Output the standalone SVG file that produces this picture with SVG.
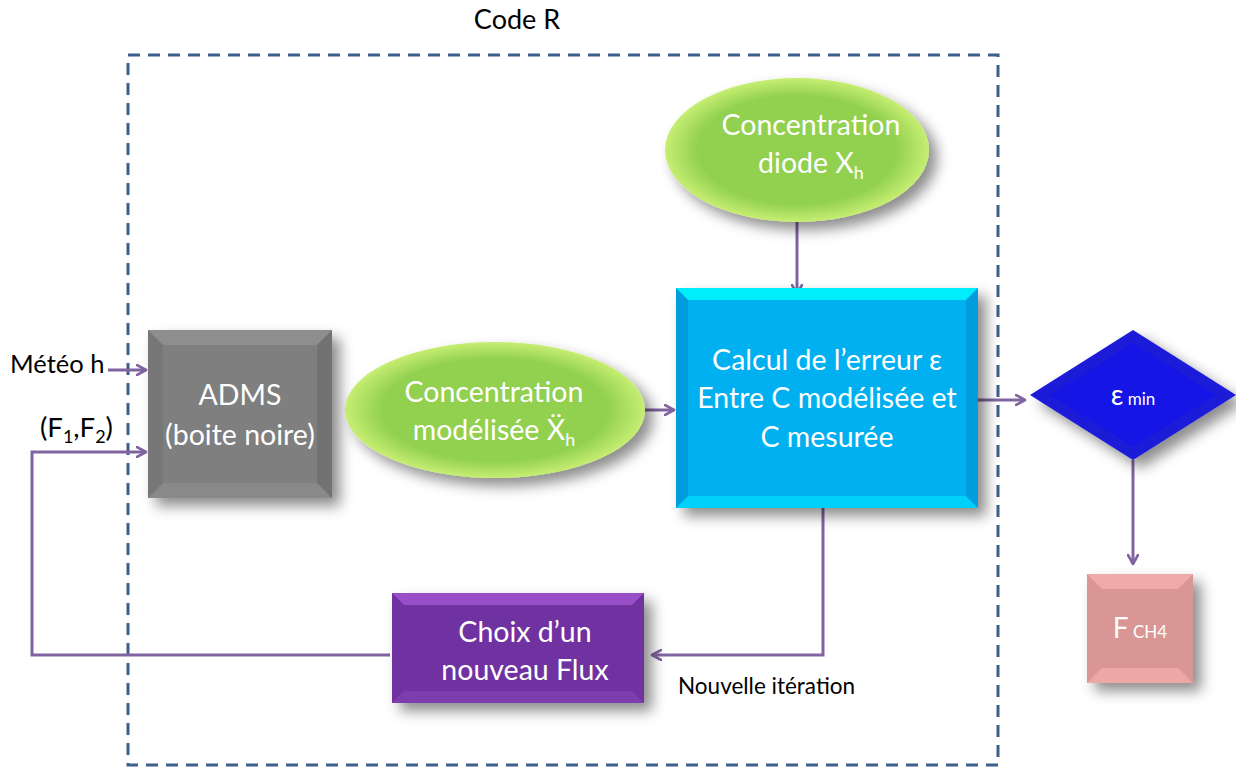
<svg xmlns="http://www.w3.org/2000/svg" width="1236" height="767" viewBox="0 0 1236 767">
  <style>
    .lbl { font-family: Lato, "Liberation Sans", sans-serif; fill: #ffffff; text-anchor: middle; font-size: 28.5px; }
    .blk { font-family: Lato, "Liberation Sans", sans-serif; fill: #000000; }
    .conn { fill: none; stroke: #8064a2; stroke-width: 3; }
    .arr { marker-end: url(#ah); }
  </style>
  <defs>
    <marker id="ah" viewBox="0 0 12 12" refX="10" refY="6" markerWidth="12" markerHeight="12" markerUnits="userSpaceOnUse" orient="auto">
      <path d="M1,1 L10,6 L1,11" fill="none" stroke="#8064a2" stroke-width="2.6" stroke-linecap="round" stroke-linejoin="round"/>
    </marker>
    <filter id="sh" x="-20%" y="-20%" width="150%" height="150%">
      <feDropShadow dx="8" dy="8" stdDeviation="7" flood-color="#000000" flood-opacity="0.45"/>
    </filter>
    <radialGradient id="green" cx="50%" cy="50%" r="50%">
      <stop offset="0.75" stop-color="#92d050"/>
      <stop offset="1" stop-color="#c6ee72"/>
    </radialGradient>
  </defs>

  <rect x="128" y="55" width="870" height="710" fill="none" stroke="#3d5f8c" stroke-width="3" stroke-dasharray="12 8"/>
  <text x="517" y="29" class="blk" text-anchor="middle" font-size="27">Code R</text>

  <g id="connectors">
    <path class="conn arr" d="M108,370 H146"/>
    <path class="conn arr" d="M390,655 H32 V452 H146"/>
    <path class="conn arr" d="M345,410 H358"/>
    <path class="conn arr" d="M645,410 H674"/>
    <path class="conn arr" d="M797,222 V294"/>
    <path class="conn arr" d="M978,400 H1025"/>
    <path class="conn arr" d="M1133,460 V564"/>
    <path class="conn arr" d="M823,508 V655 H652"/>
  </g>

  <g id="meteo">
    <text x="10" y="373" class="blk" font-size="25.5">Météo h</text>
  </g>
  <g id="flux-label">
    <text x="40" y="437" class="blk" font-size="27.5">(F<tspan font-size="18" dy="6">1</tspan><tspan dy="-6">,F</tspan><tspan font-size="18" dy="6">2</tspan><tspan dy="-6">)</tspan></text>
  </g>

  <g id="adms">
    <g filter="url(#sh)">
      <rect x="148" y="330" width="184" height="168" fill="#7f7f7f"/>
    </g>
    <polygon points="148,330 332,330 317,345 163,345" fill="#ffffff" opacity="0.12"/>
    <polygon points="148,498 332,498 317,483 163,483" fill="#ffffff" opacity="0.08"/>
    <polygon points="148,330 163,345 163,483 148,498" fill="#000000" opacity="0.06"/>
    <polygon points="332,330 317,345 317,483 332,498" fill="#000000" opacity="0.1"/>
    <text x="240" y="405" class="lbl">ADMS</text>
    <text x="240" y="445" class="lbl">(boite noire)</text>
  </g>

  <g id="conc-mod">
    <ellipse cx="495" cy="410" rx="150" ry="68" fill="url(#green)" filter="url(#sh)"/>
    <text x="494" y="402" class="lbl">Concentration</text>
    <text x="494" y="440" class="lbl">modélisée Ẍ<tspan font-size="18" dy="6">h</tspan></text>
  </g>

  <g id="conc-diode">
    <ellipse cx="797" cy="150" rx="132" ry="72" fill="url(#green)" filter="url(#sh)"/>
    <text x="811" y="135" class="lbl">Concentration</text>
    <text x="811" y="173" class="lbl">diode X<tspan font-size="18" dy="6">h</tspan></text>
  </g>

  <g id="calcul">
    <g filter="url(#sh)">
      <rect x="676" y="288" width="302" height="220" fill="#00b0f0"/>
    </g>
    <polygon points="676,288 978,288 966,300 688,300" fill="#00f4ff" opacity="0.9"/>
    <polygon points="676,508 978,508 966,496 688,496" fill="#00e0ff" opacity="0.7"/>
    <polygon points="676,288 688,300 688,496 676,508" fill="#0090d0" opacity="0.6"/>
    <polygon points="978,288 966,300 966,496 978,508" fill="#0090d0" opacity="0.6"/>
    <text x="827" y="370" class="lbl">Calcul de l’erreur ε</text>
    <text x="827" y="408" class="lbl">Entre C modélisée et</text>
    <text x="827" y="447" class="lbl">C mesurée</text>
  </g>

  <g id="emin">
    <polygon points="1030,395 1133,330 1236,395 1133,460" fill="#1c1cd8" filter="url(#sh)"/>
    <polygon points="1050,395 1133,343 1216,395 1133,447" fill="#1515e6"/>
    <text x="1133" y="405" class="lbl"><tspan font-size="28">ε</tspan><tspan font-size="17"> min</tspan></text>
  </g>

  <g id="fch4">
    <g filter="url(#sh)">
      <rect x="1087" y="574" width="106" height="109" fill="#d99694"/>
    </g>
    <polygon points="1087,574 1193,574 1178,589 1102,589" fill="#ffb8b8" opacity="0.6"/>
    <polygon points="1087,683 1193,683 1178,668 1102,668" fill="#ffb8b8" opacity="0.5"/>
    <text x="1140" y="638" class="lbl"><tspan font-size="28">F</tspan><tspan font-size="17"> CH4</tspan></text>
  </g>

  <g id="choix">
    <g filter="url(#sh)">
      <rect x="392" y="593" width="252" height="110" fill="#7030a0"/>
    </g>
    <polygon points="392,593 644,593 632,605 404,605" fill="#b060e0" opacity="0.6"/>
    <polygon points="392,703 644,703 632,691 404,691" fill="#9050c0" opacity="0.4"/>
    <text x="525" y="642" class="lbl">Choix d’un</text>
    <text x="525" y="680" class="lbl">nouveau Flux</text>
  </g>

  <g id="nouvelle">
    <text x="678" y="694" class="blk" font-size="22.5">Nouvelle itération</text>
  </g>
</svg>
